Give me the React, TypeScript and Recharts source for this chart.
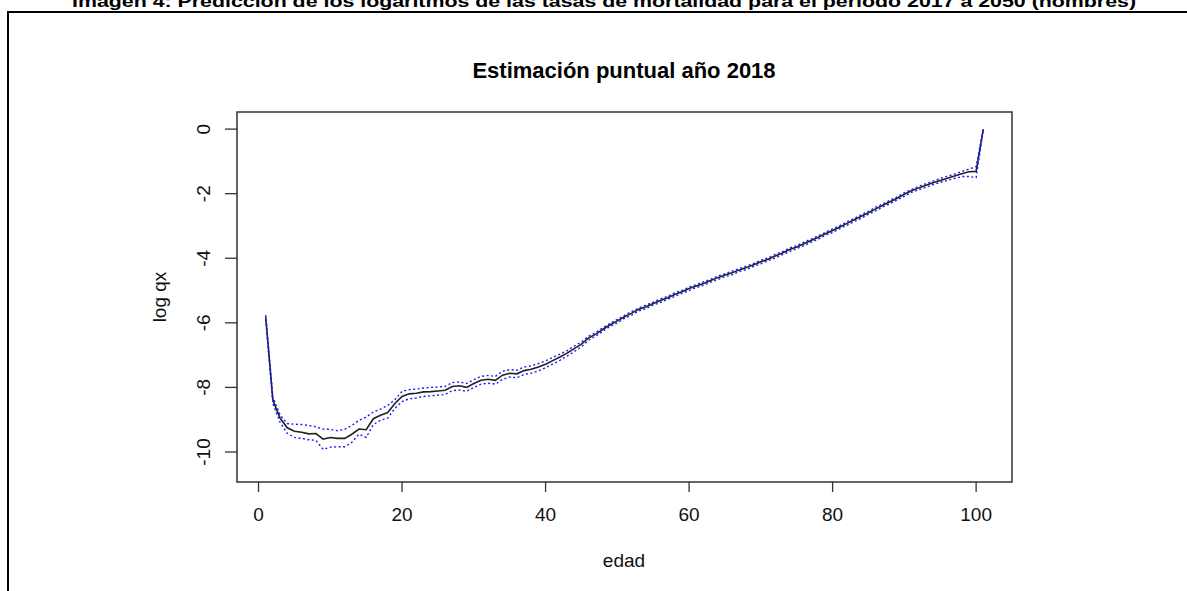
import { LineChart, Line, XAxis, YAxis, ReferenceArea } from "recharts";

// edad 1..101 (index of the age groups)
const ages: number[] = Array.from({ length: 101 }, (_, i) => i + 1);

// point estimate of log qx
const central: number[] = [
  -5.82, -8.4, -8.95, -9.25, -9.36, -9.39, -9.44, -9.43, -9.6, -9.55,
  -9.58, -9.58, -9.45, -9.29, -9.31, -8.97, -8.86, -8.78, -8.5, -8.28,
  -8.2, -8.18, -8.14, -8.13, -8.11, -8.09, -7.97, -7.95, -8.0, -7.88,
  -7.78, -7.75, -7.78, -7.62, -7.56, -7.58, -7.48, -7.44, -7.37, -7.28,
  -7.17, -7.06, -6.94, -6.8, -6.66, -6.47, -6.35, -6.2, -6.06, -5.94,
  -5.81, -5.7, -5.58, -5.5, -5.4, -5.31, -5.22, -5.12, -5.04, -4.94,
  -4.86, -4.78, -4.69, -4.6, -4.52, -4.45, -4.36, -4.29, -4.2, -4.11,
  -4.03, -3.93, -3.84, -3.73, -3.65, -3.55, -3.45, -3.35, -3.24, -3.14,
  -3.03, -2.92, -2.81, -2.7, -2.59, -2.47, -2.36, -2.25, -2.14, -2.02,
  -1.91, -1.82, -1.74, -1.66, -1.59, -1.52, -1.45, -1.38, -1.32, -1.31,
  0.0,
];

// upper bound (blue dotted)
const upper: number[] = [
  -5.76, -8.3, -8.85, -9.12, -9.14, -9.15, -9.18, -9.22, -9.29, -9.3,
  -9.34, -9.3, -9.18, -9.02, -8.92, -8.76, -8.67, -8.56, -8.38, -8.12,
  -8.07, -8.05, -8.02, -8.0, -7.99, -7.97, -7.85, -7.83, -7.88, -7.76,
  -7.66, -7.63, -7.66, -7.5, -7.45, -7.47, -7.37, -7.33, -7.26, -7.18,
  -7.07, -6.97, -6.86, -6.72, -6.59, -6.41, -6.3, -6.15, -6.02, -5.89,
  -5.77, -5.65, -5.54, -5.45, -5.36, -5.26, -5.18, -5.07, -5.0, -4.89,
  -4.82, -4.73, -4.65, -4.55, -4.48, -4.4, -4.32, -4.24, -4.16, -4.06,
  -3.99, -3.88, -3.8, -3.68, -3.61, -3.5, -3.41, -3.3, -3.2, -3.09,
  -2.99, -2.87, -2.77, -2.65, -2.55, -2.42, -2.32, -2.2, -2.1, -1.97,
  -1.87, -1.77, -1.69, -1.61, -1.53, -1.46, -1.39, -1.31, -1.24, -1.16,
  0.02,
];

// lower bound (blue dotted)
const lower: number[] = [
  -5.88, -8.5, -9.08, -9.42, -9.55, -9.58, -9.62, -9.64, -9.92, -9.85,
  -9.84, -9.84, -9.7, -9.45, -9.55, -9.15, -9.02, -8.95, -8.65, -8.44,
  -8.35, -8.33, -8.28, -8.26, -8.24, -8.22, -8.1, -8.08, -8.12, -8.0,
  -7.9, -7.87, -7.9, -7.75, -7.68, -7.7, -7.6, -7.56, -7.49, -7.39,
  -7.28, -7.16, -7.03, -6.89, -6.74, -6.54, -6.41, -6.26, -6.11, -6.0,
  -5.86, -5.76, -5.63, -5.56, -5.45, -5.37, -5.27, -5.18, -5.09, -5.0,
  -4.91, -4.84, -4.74, -4.66, -4.57, -4.51, -4.41, -4.35, -4.25, -4.17,
  -4.08, -3.99, -3.89, -3.79, -3.7, -3.61, -3.5, -3.41, -3.29, -3.2,
  -3.08, -2.98, -2.86, -2.76, -2.64, -2.53, -2.41, -2.31, -2.19, -2.08,
  -1.96, -1.88, -1.8, -1.72, -1.65, -1.59, -1.53, -1.47, -1.47, -1.5,
  -0.03,
];

const xTicks = [0, 20, 40, 60, 80, 100];
const yTicks = [-10, -8, -6, -4, -2, 0];
const xDomain: [number, number] = [-3, 105];
const yDomain: [number, number] = [-10.93, 0.53];

const chartData = ages.map((edad, i) => ({
  edad,
  central: central[i],
  upper: upper[i],
  lower: lower[i],
}));

const FONT = "'Liberation Sans', Arial, Helvetica, sans-serif";
const AXIS = "#333";

const XTick = (props: any) => {
  const { x, y, payload } = props;
  return (
    <text x={x} y={y} dy="0.71em" textAnchor="middle" fontSize={19} fontFamily={FONT} fill="#111">
      {payload.value}
    </text>
  );
};

// R-style y labels, read bottom to top
const YTick = (props: any) => {
  const { x, y, payload } = props;
  return (
    <text
      x={x}
      y={y}
      textAnchor="middle"
      transform={`rotate(-90 ${x} ${y})`}
      fontSize={19}
      fontFamily={FONT}
      fill="#111"
    >
      {payload.value}
    </text>
  );
};

export default function App() {
  return (
    <div
      style={{
        position: "absolute",
        left: 0,
        top: 0,
        width: 1187,
        height: 591,
        background: "#fff",
        overflow: "hidden",
      }}
    >
      <LineChart
        width={1187}
        height={591}
        data={chartData}
        margin={{ top: 112, right: 175, bottom: 79, left: 177 }}
      >
        <XAxis
          dataKey="edad"
          type="number"
          domain={xDomain}
          ticks={xTicks}
          allowDataOverflow
          axisLine={false}
          tickLine={{ stroke: AXIS, strokeWidth: 1.3 }}
          tickSize={10}
          tickMargin={16}
          height={30}
          tick={<XTick />}
          interval={0}
        />
        <YAxis
          type="number"
          domain={yDomain}
          ticks={yTicks}
          allowDataOverflow
          axisLine={false}
          tickLine={{ stroke: AXIS, strokeWidth: 1.3 }}
          tickSize={12}
          tickMargin={15}
          width={60}
          tick={<YTick />}
          interval={0}
        />
        <ReferenceArea
          x1={xDomain[0]}
          x2={xDomain[1]}
          y1={yDomain[0]}
          y2={yDomain[1]}
          fill="none"
          stroke={AXIS}
          strokeWidth={1.5}
          fillOpacity={0}
        />
        <Line
          dataKey="central"
          type="linear"
          stroke="#222"
          strokeWidth={1.6}
          dot={false}
          activeDot={false}
          isAnimationActive={false}
        />
        <Line
          dataKey="upper"
          type="linear"
          stroke="#1a1aff"
          strokeWidth={1.4}
          strokeDasharray="2 2.5"
          dot={false}
          activeDot={false}
          isAnimationActive={false}
        />
        <Line
          dataKey="lower"
          type="linear"
          stroke="#1a1aff"
          strokeWidth={1.4}
          strokeDasharray="2 2.5"
          dot={false}
          activeDot={false}
          isAnimationActive={false}
        />
      </LineChart>

      <svg
        width={1187}
        height={591}
        style={{ position: "absolute", left: 0, top: 0, pointerEvents: "none" }}
      >
        <text
          x={604}
          y={7}
          textAnchor="middle"
          fontSize={16}
          fontWeight="bold"
          fontFamily={FONT}
          fill="#000"
          textLength={1064}
          lengthAdjust="spacingAndGlyphs"
        >
          Imagen 4: Predicción de los logaritmos de las tasas de mortalidad para el período 2017 a 2050 (hombres)
        </text>
        <polyline points="8,600 8,12 1200,12" fill="none" stroke="#000" strokeWidth={2} />
        <text x={624} y={78} textAnchor="middle" fontSize={22} fontWeight="bold" fontFamily={FONT} fill="#000">
          Estimación puntual año 2018
        </text>
        <text x={624} y={567} textAnchor="middle" fontSize={19} fontFamily={FONT} fill="#111">
          edad
        </text>
        <text
          x={166}
          y={297}
          textAnchor="middle"
          transform="rotate(-90 166 297)"
          fontSize={19}
          fontFamily={FONT}
          fill="#111"
        >
          log qx
        </text>
      </svg>
    </div>
  );
}
